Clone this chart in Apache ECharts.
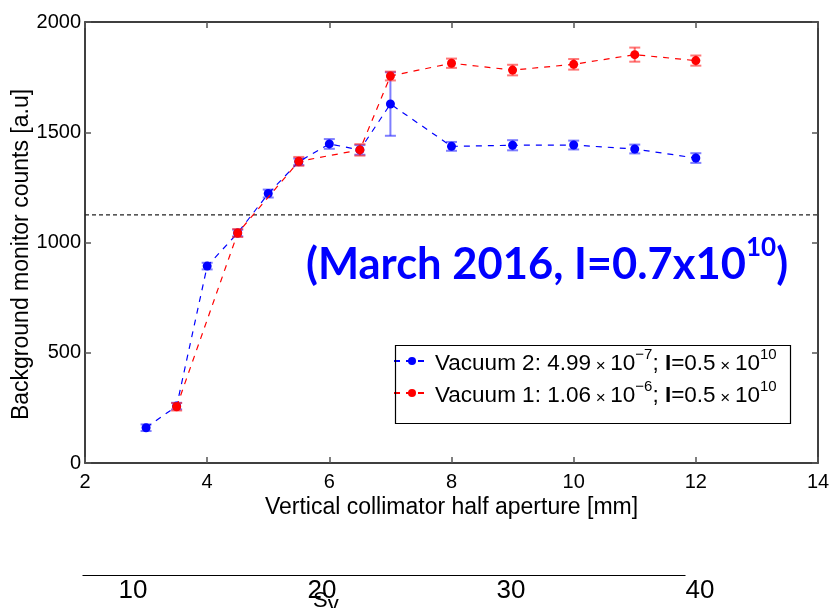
<!DOCTYPE html>
<html>
<head>
<meta charset="utf-8">
<script src="https://cdn.jsdelivr.net/npm/echarts@6/dist/echarts.min.js"></script>
<style>
html,body{margin:0;padding:0;background:#fff;}
#c{width:830px;height:608px;}
</style>
</head>
<body>
<div id="c"></div>
<script>
// ---- data ----
const vac2X = [3, 3.5, 4, 4.5, 5, 5.5, 6, 6.5, 7, 8, 9, 10, 11, 12];
const vac2Y = [160, 258, 893, 1043, 1222, 1366, 1447, 1420, 1628, 1436, 1441, 1442, 1424, 1383];
const vac2Err = [15, 15, 15, 15, 18, 15, 22, 22, 144, 20, 23, 20, 20, 22];
const vac1X = [3.5, 4.5, 5.5, 6.5, 7, 8, 9, 10, 11, 12];
const vac1Y = [255, 1043, 1368, 1420, 1755, 1813, 1782, 1808, 1852, 1825];
const vac1Err = [17, 18, 20, 26, 20, 21, 24, 24, 32, 23];
const thresholdY = 1125;
const seriesNames = ['Vacuum 2', 'Vacuum 1'];
const pressures = ['4.99', '1.06'];
const pressureExp = ['\u22127', '\u22126'];
const intensity = '0.5';
const intensityExp = '10';
const syTicks = [10, 20, 30, 40];
const annotationMain = '(March 2016, I=0.7x10';
const annotationExp = '10';

const font = 'Liberation Sans';
const chart = echarts.init(document.getElementById('c'));

function pts(xs, ys) { return xs.map((x, i) => [x, ys[i]]); }
function errPts(xs, ys, es) { return xs.map((x, i) => [x, ys[i], es[i]]); }
function errRender(color) {
  return function (params, api) {
    const x = api.value(0), y = api.value(1), e = api.value(2);
    const t = api.coord([x, y + e]);
    const b = api.coord([x, y - e]);
    const hw = 5.5;
    const st = { stroke: color, lineWidth: 2 };
    return {
      type: 'group',
      children: [
        { type: 'line', shape: { x1: t[0], y1: t[1], x2: b[0], y2: b[1] }, style: st },
        { type: 'line', shape: { x1: t[0] - hw, y1: t[1], x2: t[0] + hw, y2: t[1] }, style: st },
        { type: 'line', shape: { x1: b[0] - hw, y1: b[1], x2: b[0] + hw, y2: b[1] }, style: st }
      ]
    };
  };
}

const legendRich = {
  t: { fontFamily: font, fontSize: 22.5, color: '#000', lineHeight: 28, verticalAlign: 'bottom' },
  x: { fontFamily: font, fontSize: 17, color: '#000', lineHeight: 28, verticalAlign: 'bottom' },
  b: { fontFamily: font, fontSize: 22.5, fontWeight: 'bold', color: '#000', lineHeight: 28, verticalAlign: 'bottom' },
  s: { fontFamily: font, fontSize: 15, color: '#000', lineHeight: 15, verticalAlign: 'top', padding: [0, 0, 11, 0] }
};

const axisCommon = {
  axisLine: { show: true, onZero: false, lineStyle: { color: '#000', width: 1.5 } },
  axisTick: { show: true, inside: true, length: 6, lineStyle: { color: '#555', width: 1.5 } },
  splitLine: { show: false }
};

chart.setOption({
  animation: false,
  backgroundColor: '#fff',
  grid: [
    { left: 85, right: 12, top: 22, bottom: 145, outerBoundsMode: 'none', containLabel: false },
    { left: 80, width: 640, top: 573, height: 1, outerBoundsMode: 'none', containLabel: false }
  ],
  xAxis: [
    Object.assign({}, axisCommon, {
      gridIndex: 0, type: 'value', min: 2, max: 14, interval: 2, position: 'bottom',
      name: 'Vertical collimator half aperture [mm]', nameLocation: 'middle', nameGap: 33,
      nameMoveOverlap: false,
      nameTextStyle: { fontFamily: font, fontSize: 23, color: '#000' },
      axisLabel: { fontFamily: font, fontSize: 20, color: '#000', margin: 9 }
    }),
    Object.assign({}, axisCommon, {
      gridIndex: 0, type: 'value', min: 2, max: 14, interval: 2, position: 'top',
      axisLabel: { show: false }
    }),
    {
      gridIndex: 1, type: 'value', min: 7.196, max: 41.06, position: 'bottom',
      axisLine: { show: false },
      axisTick: { show: false },
      splitLine: { show: false },
      axisLabel: { customValues: syTicks, fontFamily: font, fontSize: 26, color: '#000', margin: 4 }
    }
  ],
  yAxis: [
    Object.assign({}, axisCommon, {
      gridIndex: 0, type: 'value', min: 0, max: 2000, interval: 500, position: 'left',
      name: 'Background monitor counts [a.u]', nameLocation: 'middle', nameGap: 52,
      nameMoveOverlap: false,
      nameTextStyle: { fontFamily: font, fontSize: 23, color: '#000', padding: [0, 24, 0, 0] },
      axisLabel: { fontFamily: font, fontSize: 20, color: '#000', margin: 4, formatter: function (v) { return String(v); } }
    }),
    Object.assign({}, axisCommon, {
      gridIndex: 0, type: 'value', min: 0, max: 2000, interval: 500, position: 'right',
      axisLabel: { show: false }
    }),
    { gridIndex: 1, type: 'value', show: false, min: 0, max: 1 }
  ],
  legend: {
    data: seriesNames,
    orient: 'vertical',
    left: 393, top: 347,
    itemWidth: 36, itemHeight: 10, itemGap: 4,
    padding: 0,
    textStyle: { rich: legendRich },
    formatter: function (name) {
      const i = seriesNames.indexOf(name);
      return '{t|' + name + ': ' + pressures[i] + '}{x| \u00d7 }{t|10}{s|' + pressureExp[i] + '}{t|; }{b|I}{t|=' + intensity + '}{x| \u00d7 }{t|10}{s|' + intensityExp + '}';
    }
  },
  graphic: [
    { type: 'rect', left: 393, top: 343, shape: { width: 395, height: 78 }, style: { fill: 'none', stroke: '#000', lineWidth: 1.2 }, z: 100 },
    { type: 'line', left: 80, top: 573, shape: { x1: 0, y1: 0, x2: 603, y2: 0 }, style: { stroke: '#000', lineWidth: 1.2 }, z: 100 },
    {
      type: 'text', left: 306, top: 235, z: 100,
      style: {
        text: '{m|' + annotationMain + '}{s|' + annotationExp + '}{m|)}',
        rich: {
          m: { fontFamily: 'Lato', fontWeight: 'bold', fontSize: 43.5, fill: '#0000ff', lineHeight: 52, verticalAlign: 'bottom' },
          s: { fontFamily: 'Lato', fontWeight: 'bold', fontSize: 26, fill: '#0000ff', lineHeight: 26, verticalAlign: 'top', padding: [0, 0, 18, 0] }
        }
      }
    },
    {
      type: 'text', left: 313, top: 590, z: 100,
      style: {
        text: '{a|S}{b|y}',
        rich: {
          a: { fontFamily: font, fontSize: 22, fill: '#000', lineHeight: 22, verticalAlign: 'top' },
          b: { fontFamily: font, fontSize: 22, fill: '#000', lineHeight: 22, verticalAlign: 'top', padding: [4, 0, 0, 0] }
        }
      }
    }
  ],
  series: [
    {
      type: 'line', name: 'threshold', xAxisIndex: 0, yAxisIndex: 0, silent: true,
      data: [[2, thresholdY], [14, thresholdY]], symbol: 'none',
      lineStyle: { color: '#222', width: 1.3, type: [4, 3] }, z: 1
    },
    {
      type: 'custom', name: 'err2', xAxisIndex: 0, yAxisIndex: 0, silent: true,
      renderItem: errRender('rgba(40,40,255,0.6)'), data: errPts(vac2X, vac2Y, vac2Err),
      encode: { x: 0, y: 1 }, z: 2
    },
    {
      type: 'line', name: seriesNames[0], xAxisIndex: 0, yAxisIndex: 0,
      data: pts(vac2X, vac2Y), symbol: 'circle', symbolSize: 9,
      itemStyle: { color: '#0000ff' },
      lineStyle: { color: '#0000ff', width: 1.2, type: [6, 6] }, z: 3
    },
    {
      type: 'custom', name: 'err1', xAxisIndex: 0, yAxisIndex: 0, silent: true,
      renderItem: errRender('rgba(255,30,30,0.6)'), data: errPts(vac1X, vac1Y, vac1Err),
      encode: { x: 0, y: 1 }, z: 4
    },
    {
      type: 'line', name: seriesNames[1], xAxisIndex: 0, yAxisIndex: 0,
      data: pts(vac1X, vac1Y), symbol: 'circle', symbolSize: 9,
      itemStyle: { color: '#ff0000' },
      lineStyle: { color: '#ff0000', width: 1.2, type: [6, 6] }, z: 5
    },
    {
      type: 'line', name: 'syAxis', xAxisIndex: 2, yAxisIndex: 2, silent: true,
      data: [], symbol: 'none'
    }
  ]
});
</script>
</body>
</html>
